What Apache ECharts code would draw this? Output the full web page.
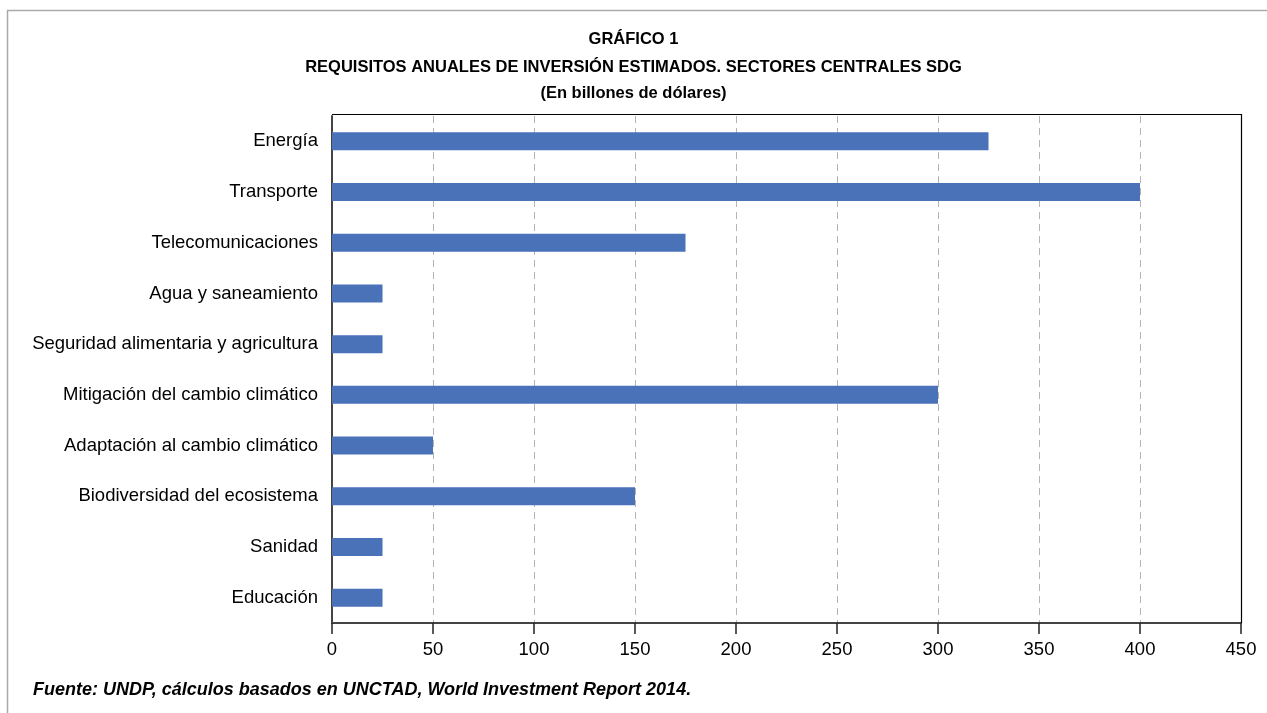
<!DOCTYPE html>
<html>
<head>
<meta charset="utf-8">
<script src="https://cdn.jsdelivr.net/npm/echarts@6/dist/echarts.min.js"></script>
<style>
  html, body { margin: 0; padding: 0; background: #fff; }
  #chart { width: 1267px; height: 713px; }
</style>
</head>
<body>
<div id="chart"></div>
<script>
// Sectores centrales SDG, requisitos anuales de inversión (billones de dólares)
const categories = [
  'Energía',
  'Transporte',
  'Telecomunicaciones',
  'Agua y saneamiento',
  'Seguridad alimentaria y agricultura',
  'Mitigación del cambio climático',
  'Adaptación al cambio climático',
  'Biodiversidad del ecosistema',
  'Sanidad',
  'Educación'
];
const values = [325, 400, 175, 25, 25, 300, 50, 150, 25, 25];
const xTicks = [0, 50, 100, 150, 200, 250, 300, 350, 400, 450];

const titleLines = [
  'GRÁFICO 1',
  'REQUISITOS ANUALES DE INVERSIÓN ESTIMADOS. SECTORES CENTRALES SDG',
  '(En billones de dólares)'
];
const sourceNote = 'Fuente: UNDP, cálculos basados en UNCTAD, World Investment Report 2014.';

const FONT = '"Liberation Sans", Arial, Helvetica, sans-serif';

const chart = echarts.init(document.getElementById('chart'), null, { renderer: 'canvas' });

chart.setOption({
  backgroundColor: '#ffffff',
  animation: false,
  textStyle: { fontFamily: FONT },
  grid: {
    left: 332, right: 26, top: 116, bottom: 90,
    show: false
  },
  graphic: [
    // page frame (top and left rules)
    { type: 'line', shape: { x1: 7, y1: 10.5, x2: 1267, y2: 10.5 }, style: { stroke: '#aaaaaa', lineWidth: 1.5 }, silent: true },
    { type: 'line', shape: { x1: 7.5, y1: 10, x2: 7.5, y2: 713 }, style: { stroke: '#aaaaaa', lineWidth: 1.5 }, silent: true },
    // plot frame: top and right edges
    { type: 'polyline', z: 10, shape: { points: [[332, 114.5], [1241.5, 114.5], [1241.5, 623]] }, style: { stroke: '#000000', lineWidth: 1.2, fill: null }, silent: true },
    { type: 'text', left: 'center', top: 31, style: { text: titleLines[0], font: 'bold 16.5px ' + FONT, fill: '#000' } },
    { type: 'text', left: 'center', top: 59, style: { text: titleLines[1], font: 'bold 16.5px ' + FONT, fill: '#000' } },
    { type: 'text', left: 'center', top: 85, style: { text: titleLines[2], font: 'bold 16.5px ' + FONT, fill: '#000' } },
    { type: 'text', left: 33, top: 681, style: { text: sourceNote, font: 'italic bold 18px ' + FONT, fill: '#000' } }
  ],
  xAxis: {
    type: 'value',
    min: xTicks[0],
    max: xTicks[xTicks.length - 1],
    interval: 50,
    axisLine: { show: true, onZero: false, lineStyle: { color: '#444444', width: 2 } },
    axisTick: { show: true, length: 11, lineStyle: { color: '#222222', width: 1.5 } },
    axisLabel: { color: '#000', fontSize: 18.5, margin: 17, fontFamily: FONT },
    splitLine: { show: true, lineStyle: { color: '#b5b5b5', type: [7, 5], width: 1 } }
  },
  yAxis: {
    type: 'category',
    data: categories,
    inverse: true,
    axisLine: { show: true, lineStyle: { color: '#444444', width: 2 } },
    axisTick: { show: false },
    axisLabel: { color: '#000', fontSize: 18.5, margin: 14, fontFamily: FONT },
    splitLine: { show: false }
  },
  series: [{
    type: 'bar',
    data: values,
    barWidth: 18,
    itemStyle: { color: '#4a72b8' },
    label: { show: false }
  }]
});
</script>
</body>
</html>
